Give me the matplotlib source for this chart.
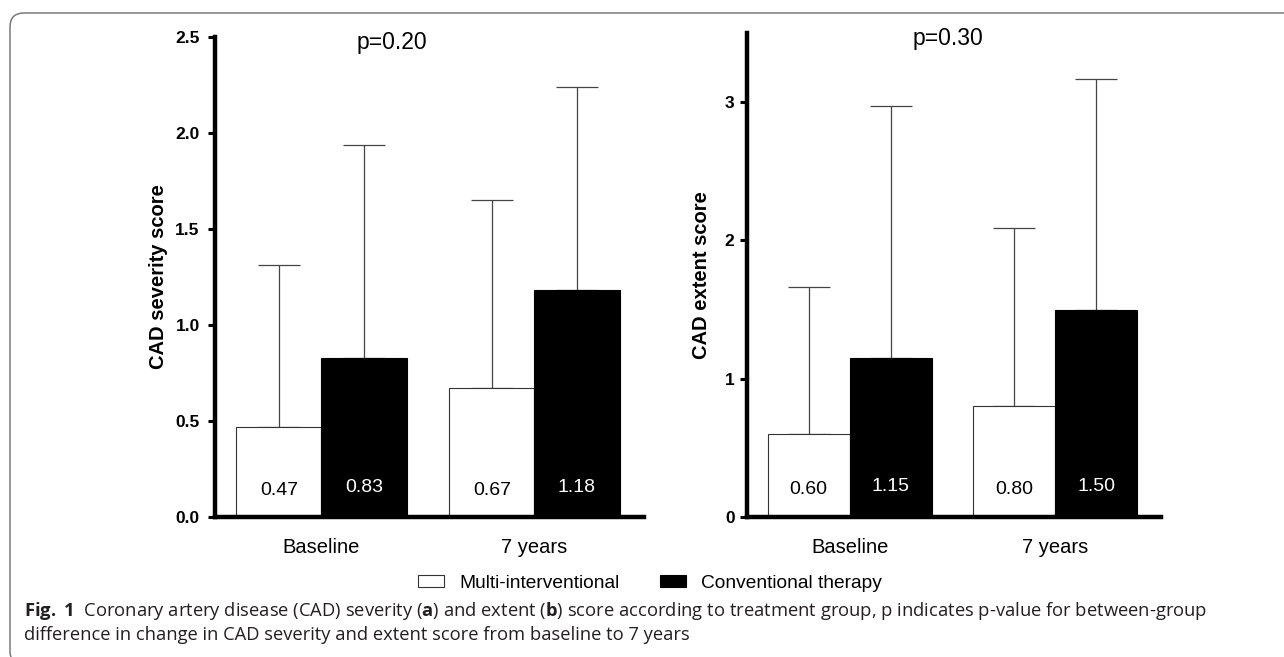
import numpy as np
import matplotlib
matplotlib.use('Agg')
import matplotlib.pyplot as plt
from matplotlib.patches import Patch, FancyBboxPatch
from matplotlib.transforms import IdentityTransform, blended_transform_factory

plt.rcParams['font.family'] = ['Liberation Sans', 'DejaVu Sans']
plt.rcParams['mathtext.fontset'] = 'custom'
plt.rcParams['mathtext.rm'] = 'Open Sans'
plt.rcParams['mathtext.bf'] = 'Open Sans:bold'

# datos
groups = ['Baseline', '7 years']
series = ['Multi-interventional', 'Conventional therapy']

sev_multi = [0.47, 0.67]
sev_conv = [0.83, 1.18]
sev_multi_sd = [0.84, 0.98]
sev_conv_sd = [1.11, 1.06]

ext_multi = [0.60, 0.80]
ext_conv = [1.15, 1.50]
ext_multi_sd = [1.06, 1.29]
ext_conv_sd = [1.82, 1.67]

sev_ticks = [0.0, 0.5, 1.0, 1.5, 2.0, 2.5]
ext_ticks = [0, 1, 2, 3]
p_texts = ['p=0.20', 'p=0.30']

W, H = 1284, 657
fig = plt.figure(figsize=(W / 100, H / 100), dpi=100)

ax1 = fig.add_axes([215 / W, 140 / H, 429 / W, 480 / H])
ax2 = fig.add_axes([747 / W, 140 / H, 414 / W, 484 / H])

w = 0.4


def panel(ax, multi, conv, multi_sd, conv_sd, ylabel, ticks, fmt, ylim, ptext, px, ypad):
    x = np.arange(len(groups))
    ax.bar(x - w / 2, multi, w, color='white', edgecolor='#333333', linewidth=0.8, zorder=2)
    ax.bar(x + w / 2, conv, w, color='black', edgecolor='black', linewidth=0.8, zorder=2)
    ax.errorbar(x - w / 2, multi, yerr=[np.zeros(len(x)), multi_sd], fmt='none',
                ecolor='#444444', elinewidth=0.9, capsize=15, capthick=0.9, zorder=1)
    ax.errorbar(x + w / 2, conv, yerr=[np.zeros(len(x)), conv_sd], fmt='none',
                ecolor='#444444', elinewidth=0.9, capsize=15, capthick=0.9, zorder=1)

    tr = blended_transform_factory(ax.transData, ax.transAxes)
    for i in range(len(x)):
        ax.text(x[i] - w / 2, 0.056, f'{multi[i]:.2f}', transform=tr, ha='center', va='center',
                fontsize=14, color='black', zorder=3)
        ax.text(x[i] + w / 2, 0.062, f'{conv[i]:.2f}', transform=tr, ha='center', va='center',
                fontsize=14, color='white', zorder=3)

    ax.text(px, 0.975, ptext, transform=tr, ha='center', va='baseline', fontsize=16.5)

    ax.set_xlim(-0.5, 1.515)
    ax.set_ylim(*ylim)
    ax.set_xticks(x)
    ax.set_xticklabels(groups, fontsize=14.5)
    ax.tick_params(axis='x', length=0, pad=15)
    ax.set_yticks(ticks)
    ax.set_yticklabels([fmt.format(t) for t in ticks], fontsize=12.5, fontweight='bold')
    ax.tick_params(axis='y', length=5, width=2.2, pad=ypad)

    for s in ['top', 'right']:
        ax.spines[s].set_visible(False)
    for s in ['left', 'bottom']:
        ax.spines[s].set_linewidth(3.2)

    ax.set_ylabel(ylabel, fontsize=14.5, fontweight='bold')


panel(ax1, sev_multi, sev_conv, sev_multi_sd, sev_conv_sd, 'CAD severity score',
      sev_ticks, '{:.1f}', (0, 2.5), p_texts[0], 0.33, 6)
panel(ax2, ext_multi, ext_conv, ext_multi_sd, ext_conv_sd, 'CAD extent score',
      ext_ticks, '{:d}', (0, 3.5), p_texts[1], 0.48, 4)
ax1.yaxis.set_label_coords(-0.11, 0.5)
ax2.yaxis.set_label_coords(-0.087, 0.5)

handles = [Patch(facecolor='white', edgecolor='#333333', linewidth=0.8, label=series[0]),
           Patch(facecolor='black', edgecolor='black', linewidth=0.8, label=series[1])]
fig.legend(handles=handles, loc='center left', bbox_to_anchor=(418 / W, 1 - 583 / H), ncol=2,
           frameon=False, fontsize=13.8, handlelength=1.35, handleheight=0.58, handletextpad=0.8,
           columnspacing=2.1, borderpad=0, borderaxespad=0)

cap1 = (r'$\mathbf{Fig.}$ $\mathbf{1}$  Coronary artery disease (CAD) severity ($\mathbf{a}$) and extent '
        r'($\mathbf{b}$) score according to treatment group, p indicates p-value for between-group')
cap2 = 'difference in change in CAD severity and extent score from baseline to 7 years'
fig.text(24 / W, 1 - 616 / H, cap1, fontsize=13.25, family='Open Sans', color='#231f20', va='baseline')
fig.text(24 / W, 1 - 640 / H, cap2, fontsize=13.25, family='Open Sans', color='#231f20', va='baseline')

frame = FancyBboxPatch((10, -8), 1320, 652, boxstyle='round,pad=0,rounding_size=14',
                       transform=IdentityTransform(), fill=False, edgecolor='#7a7a7a', linewidth=1.1)
fig.add_artist(frame)

fig.savefig('out.png', dpi=100)
